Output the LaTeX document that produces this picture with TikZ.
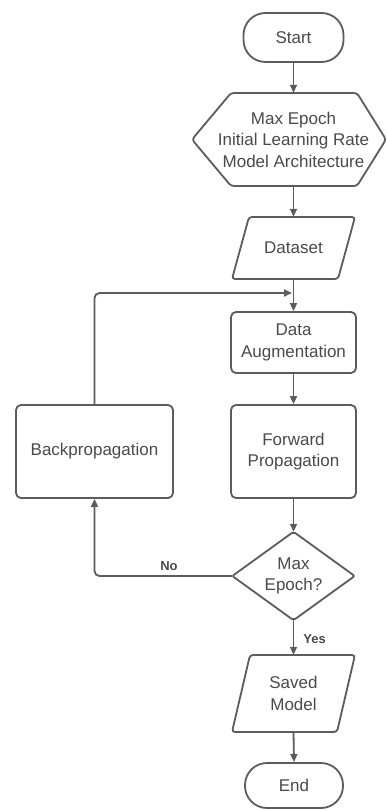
\documentclass[tikz,border=0pt]{standalone}
\usepackage{fontspec}
\setmainfont{Liberation Sans}
\usetikzlibrary{arrows.meta}
\definecolor{linec}{HTML}{5C5C5C}
\definecolor{textc}{HTML}{4A4A4A}
\tikzset{
  ln/.style={draw=linec, line width=1.8pt},
  arr/.style={ln, -{Triangle[length=8pt,width=7pt]}},
  txt/.style={text=textc, font=\fontsize{17}{21.5}\selectfont, align=center},
  term/.style={txt, ln, rounded corners=22pt},
  proc/.style={txt, ln, rounded corners=5pt},
  shp/.style={txt, draw=none},
  lbl/.style={text=textc, font=\fontsize{13}{15}\selectfont\bfseries, inner sep=1pt},
}
\begin{document}
\begin{tikzpicture}[x=1pt,y=-1pt]
\useasboundingbox (0,0) rectangle (387,810);
\fill[white] (0,0) rectangle (387,810);
% nodes
\node[term, minimum width=100pt, minimum height=49pt] (start) at (293.5,37.5) {Start};
\node[shp, minimum width=124pt, minimum height=93pt] (par) at (293.5,139.5) {Max Epoch\\Initial Learning Rate\\Model Architecture};
\draw[ln, rounded corners=3pt] (231,93) -- (357,93) -- (386,139.5) -- (357,186) -- (231,186) -- (192,139.5) -- cycle;
\node[shp, minimum width=106pt, minimum height=62pt] (ds) at (293.5,248) {Dataset};
\draw[ln, rounded corners=3pt] (249,217) -- (355,217) -- (338,279) -- (232,279) -- cycle;
\node[proc, minimum width=125pt, minimum height=61pt] (aug) at (293.5,342.5) {Data\\Augmentation};
\node[proc, minimum width=125pt, minimum height=93pt] (fwd) at (293.5,451.5) {Forward\\Propagation};
\node[proc, minimum width=157pt, minimum height=93pt] (back) at (94.5,451.5) {Backpropagation};
\node[shp, minimum width=122pt, minimum height=88pt] (dec) at (293.5,576) {Max\\Epoch?};
\draw[ln, rounded corners=2pt] (dec.north) -- (dec.east) -- (dec.south) -- (dec.west) -- cycle;
\node[shp, minimum width=105pt, minimum height=77pt] (saved) at (293.5,693.5) {Saved\\Model};
\draw[ln, rounded corners=3pt] (250,655) -- (355,655) -- (337,732) -- (232,732) -- cycle;
\node[term, minimum width=98pt, minimum height=45pt] (end) at (294,785.5) {End};
% connectors
\coordinate (join) at (292,293);
\draw[arr] (start.south) -- (par.north);
\draw[arr] (par.south) -- (ds.north);
\draw[arr] (ds.south) -- (aug.north);
\draw[arr, rounded corners=5pt] (back.north) |- (join);
\draw[arr] (aug.south) -- (fwd.north);
\draw[arr] (fwd.south) -- (dec.north);
\draw[arr] (dec.south) -- node[lbl, anchor=west, xshift=8pt, yshift=-2pt] {Yes} (saved.north);
\draw[arr, rounded corners=5pt] (dec.west) -| node[lbl, pos=0.23, above=3pt] {No} (back.south);
\draw[arr] (saved.south) -- (end.north);
\end{tikzpicture}
\end{document}
